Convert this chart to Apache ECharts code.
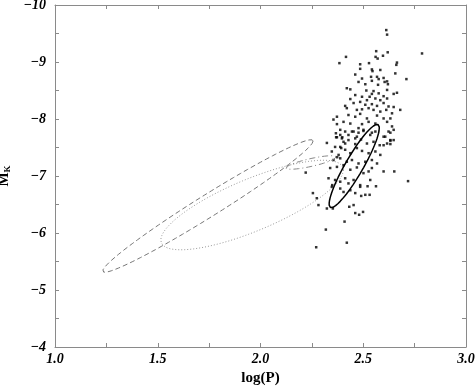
<!DOCTYPE html>
<html>
<head>
<meta charset="utf-8">
<script src="https://cdn.jsdelivr.net/npm/echarts@6/dist/echarts.min.js"></script>
<style>
  html, body { margin: 0; padding: 0; background: #fff; }
  #chart { width: 475px; height: 387px; }
</style>
</head>
<body>
<div id="chart"></div>
<script>
// log(P), M_K pairs
var stars = [
  [2.612,-9.56],[2.616,-9.48],[2.563,-9.19],[2.619,-9.17],[2.416,-9.09],[2.560,-9.09],[2.570,-9.06],
  [2.596,-9.11],[2.384,-8.98],[2.664,-8.99],[2.661,-8.95],[2.528,-8.98],[2.485,-8.96],[2.485,-8.88],
  [2.542,-8.87],[2.545,-8.84],[2.583,-8.86],[2.461,-8.78],[2.656,-8.80],[2.538,-8.74],[2.567,-8.74],
  [2.599,-8.72],[2.494,-8.71],[2.710,-8.70],[2.575,-8.70],[2.616,-8.66],[2.542,-8.67],[2.604,-8.65],
  [2.477,-8.65],[2.510,-8.61],[2.572,-8.60],[2.620,-8.61],[2.420,-8.54],[2.437,-8.52],[2.515,-8.50],
  [2.550,-8.49],[2.616,-8.51],[2.542,-8.44],[2.575,-8.45],[2.599,-8.40],[2.461,-8.42],[2.494,-8.39],
  [2.648,-8.44],[2.664,-8.46],[2.531,-8.39],[2.437,-8.35],[2.518,-8.33],[2.559,-8.36],[2.583,-8.33],
  [2.616,-8.36],[2.485,-8.30],[2.412,-8.23],[2.453,-8.28],[2.510,-8.25],[2.542,-8.26],[2.567,-8.23],
  [2.599,-8.28],[2.623,-8.22],[2.648,-8.21],[2.680,-8.16],[2.420,-8.19],[2.469,-8.16],[2.494,-8.17],
  [2.526,-8.19],[2.550,-8.16],[2.583,-8.13],[2.612,-8.16],[2.640,-8.10],[2.372,-8.04],[2.428,-8.07],
  [2.461,-8.04],[2.485,-8.09],[2.518,-8.01],[2.567,-8.06],[2.599,-8.01],[2.632,-8.01],[2.355,-7.99],
  [2.404,-7.95],[2.437,-7.92],[2.494,-7.91],[2.526,-7.95],[2.559,-7.92],[2.616,-7.95],[2.640,-7.87],
  [2.372,-7.91],[2.388,-7.81],[2.445,-7.78],[2.477,-7.84],[2.501,-7.81],[2.542,-7.76],[2.623,-7.78],
  [2.648,-7.81],[2.428,-7.72],[2.372,-7.68],[2.396,-7.66],[2.469,-7.69],[2.607,-7.69],[2.632,-7.63],
  [2.412,-7.57],[2.461,-7.56],[2.388,-7.51],[2.599,-7.54],[2.632,-7.56],[2.367,-7.75],[2.412,-7.78],
  [2.453,-7.78],[2.501,-7.79],[2.534,-7.72],[2.632,-7.76],[2.648,-7.63],[2.323,-7.58],[2.404,-7.60],
  [2.489,-7.64],[2.550,-7.60],[2.580,-7.54],[2.347,-7.43],[2.380,-7.37],[2.412,-7.46],[2.437,-7.40],
  [2.469,-7.49],[2.494,-7.44],[2.526,-7.40],[2.559,-7.43],[2.583,-7.37],[2.355,-7.28],[2.388,-7.31],
  [2.420,-7.25],[2.445,-7.28],[2.477,-7.22],[2.510,-7.25],[2.542,-7.28],[2.339,-7.14],[2.372,-7.16],
  [2.404,-7.19],[2.437,-7.11],[2.469,-7.15],[2.526,-7.08],[2.542,-7.14],[2.599,-7.08],[2.651,-7.08],
  [2.331,-6.96],[2.363,-6.93],[2.388,-6.90],[2.412,-6.96],[2.428,-6.87],[2.453,-6.93],[2.485,-6.84],
  [2.521,-6.82],[2.562,-6.82],[2.534,-6.93],[2.347,-6.81],[2.404,-6.72],[2.437,-6.75],[2.461,-6.70],
  [2.255,-6.70],[2.274,-6.61],[2.282,-6.49],[2.323,-6.43],[2.352,-6.43],[2.432,-6.46],[2.453,-6.49],
  [2.461,-6.35],[2.480,-6.32],[2.499,-6.37],[2.490,-6.65],[2.510,-6.67],[2.531,-6.67],[2.718,-6.91],
  [2.409,-6.20],[2.318,-6.06],[2.420,-5.83],[2.271,-5.75],[2.220,-7.06],[2.368,-7.68],[2.398,-7.68],
  [2.363,-7.51],[2.393,-7.49],[2.373,-7.33],[2.349,-6.84],[2.786,-9.15],[2.388,-7.72],[2.477,-7.76],
  [2.559,-7.78],[2.599,-7.69],[2.616,-7.57],[2.632,-7.62],[2.428,-7.63],[2.461,-7.66],[2.518,-7.57],
  [2.567,-7.22],[2.501,-7.05],[2.388,-6.78],[2.485,-6.81]
];

// ellipses: centre x, centre y, half-extent to the rightmost point (dx, dy), vertical half-chord at centre
var solidEllipse = [2.456, -7.175, 0.122, -0.667, 0.298];
var dottedEllipse = [1.959, -6.491, 0.444, -0.614, 0.49];
var dashedEllipse = [1.744, -6.474, 0.512, -1.140, 0.228];
var dashDotEllipse = [2.246, -7.237, 0.122, -0.096, 0.07];

var xTicks = [1.0, 3.0, 0.5];
var yTicks = [-10, -4, 1];

function ellipsePoints(e) {
  var pts = [];
  for (var i = 0; i <= 180; i++) {
    var t = i / 180 * 2 * Math.PI;
    pts.push([e[0] + e[2] * Math.cos(t), e[1] + e[3] * Math.cos(t) + e[4] * Math.sin(t)]);
  }
  return pts;
}

var labelFont = {
  fontFamily: 'Liberation Serif',
  fontStyle: 'italic',
  fontWeight: 'bold',
  fontSize: 14,
  color: '#000'
};
var frameColor = '#8a8a8a';

function xAxisOf(pos, showLabels) {
  return {
    type: 'value', position: pos,
    min: xTicks[0], max: xTicks[1], interval: xTicks[2],
    axisLine: { show: true, onZero: false, lineStyle: { color: frameColor, width: 1 } },
    axisTick: { show: true, inside: true, length: 4, lineStyle: { color: frameColor } },
    minorTick: { show: true, splitNumber: 2, length: 4, lineStyle: { color: frameColor } },
    splitLine: { show: false },
    axisLabel: Object.assign({
      show: showLabels, margin: 5,
      formatter: function(v) { return v.toFixed(1); }
    }, labelFont),
    name: showLabels ? 'log(P)' : '',
    nameLocation: 'middle', nameGap: 23,
    nameTextStyle: { fontFamily: 'Liberation Serif', fontWeight: 'bold', fontSize: 15, color: '#000' }
  };
}

function yAxisOf(pos, showLabels) {
  return {
    type: 'value', position: pos, inverse: true,
    min: yTicks[0], max: yTicks[1], interval: yTicks[2],
    axisLine: { show: true, onZero: false, lineStyle: { color: frameColor, width: 1 } },
    axisTick: { show: true, inside: true, length: 4, lineStyle: { color: frameColor } },
    minorTick: { show: true, splitNumber: 2, length: 4, lineStyle: { color: frameColor } },
    splitLine: { show: false },
    axisLabel: Object.assign({
      show: showLabels, margin: 9,
      formatter: function(v) { return '\u2212' + Math.abs(v); }
    }, labelFont),
    name: showLabels ? '{m|M}{k|K}' : '',
    nameLocation: 'middle', nameGap: 42, nameRotate: 90,
    nameTextStyle: {
      rich: {
        m: { fontFamily: 'Liberation Serif', fontWeight: 'bold', fontSize: 15, color: '#000' },
        k: { fontFamily: 'Liberation Serif', fontWeight: 'bold', fontSize: 9, color: '#000', padding: [8, 0, 0, 0] }
      }
    }
  };
}

function lineSeries(e, color, width, type) {
  return {
    type: 'line', xAxisIndex: 0, yAxisIndex: 0,
    data: ellipsePoints(e),
    showSymbol: false, symbol: 'none', smooth: false, silent: true,
    lineStyle: { color: color, width: width, type: type }
  };
}

var chart = echarts.init(document.getElementById('chart'), null, { renderer: 'canvas' });
chart.setOption({
  animation: false,
  backgroundColor: '#fff',
  grid: { left: 55, right: 9, top: 5, bottom: 40, containLabel: false, outerBoundsMode: 'none' },
  xAxis: [xAxisOf('bottom', true), xAxisOf('top', false)],
  yAxis: [yAxisOf('left', true), yAxisOf('right', false)],
  series: [
    lineSeries(dashedEllipse, '#777', 1, [5, 3]),
    lineSeries(dottedEllipse, '#9a9a9a', 1, [1, 2]),
    lineSeries(dashDotEllipse, '#888', 1, [6, 3, 1, 3]),
    {
      type: 'scatter', xAxisIndex: 0, yAxisIndex: 0,
      data: stars, symbol: 'rect', symbolSize: 2.5,
      itemStyle: { color: '#000' }, silent: true
    },
    lineSeries(solidEllipse, '#000', 1.5, 'solid')
  ]
});
</script>
</body>
</html>
